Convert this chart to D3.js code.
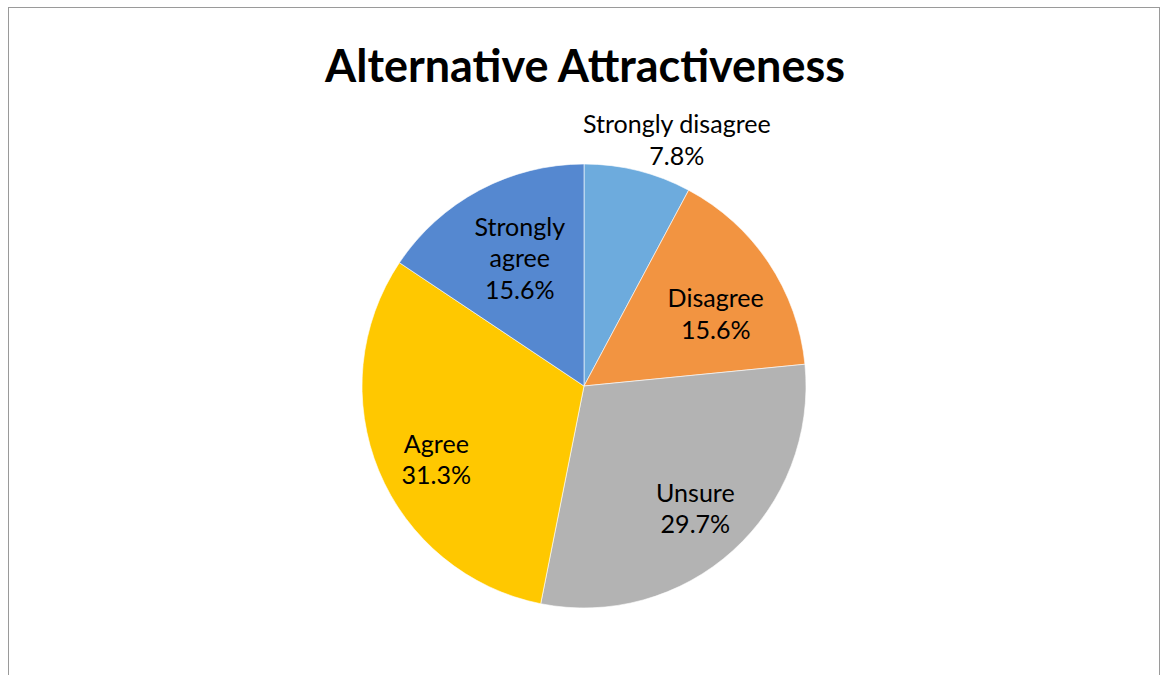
<!DOCTYPE html>
<html>
<head>
<meta charset="utf-8">
<script src="https://cdn.jsdelivr.net/npm/d3@7"></script>
<style>
  html, body { margin: 0; padding: 0; background: #fff; }
  svg { display: block; }
</style>
</head>
<body>
<svg id="chart" width="1162" height="675"></svg>
<script>
// ---- data ----
const title = "Alternative Attractiveness";
const categories = ["Strongly disagree", "Disagree", "Unsure", "Agree", "Strongly agree"];
const values = [5, 10, 19, 20, 10];              // responses (n = 64)
const percentLabels = ["7.8%", "15.6%", "29.7%", "31.3%", "15.6%"];
const labelLines = [["Strongly disagree"], ["Disagree"], ["Unsure"], ["Agree"], ["Strongly", "agree"]];

// ---- style / layout ----
const colors = ["#6DABDD", "#F29441", "#B3B3B3", "#FFC800", "#5588D0"];
const W = 1162, H = 675;
const cx = 584, cy = 386, R = 222;
// label placement in polar terms (radius factor, angle shift in degrees)
const labelPlace = [
  {r: 1.19, da: 6.5},
  {r: 0.68, da: 4.5},
  {r: 0.74, da: -0.5},
  {r: 0.74, da: -3.5},
  {r: 0.65, da: 1.7}
];
const fontFamily = "Lato, 'Open Sans', 'DejaVu Sans', sans-serif";

const svg = d3.select("#chart");

// frame
svg.append("rect")
  .attr("x", 8.5).attr("y", 7.5)
  .attr("width", 1151).attr("height", 720)
  .attr("fill", "#fff")
  .attr("stroke", "#9a9a9a")
  .attr("stroke-width", 1);

// title
const t = svg.append("text")
  .attr("x", 585).attr("y", 82)
  .attr("text-anchor", "middle")
  .attr("font-family", fontFamily)
  .attr("font-weight", "bold")
  .attr("font-size", 40)
  .attr("fill", "#000")
  .text(title);
{
  const w = t.node().getComputedTextLength();
  t.attr("font-size", 40 * 520 / w);
}

// pie
const pie = d3.pie().value(d => d).sort(null);
const arcs = pie(values);
const arc = d3.arc().innerRadius(0).outerRadius(R);

const g = svg.append("g").attr("transform", `translate(${cx},${cy})`);
g.selectAll("path.slice")
  .data(arcs)
  .join("path")
  .attr("class", "slice")
  .attr("d", arc)
  .attr("fill", (d, i) => colors[i])
  .attr("stroke", "#fff")
  .attr("stroke-width", 0.6);

// label font size: fit "Strongly disagree" to ~188px
const probe = svg.append("text")
  .attr("font-family", fontFamily).attr("font-size", 22).text("Strongly disagree");
const labelSize = 22 * 188 / probe.node().getComputedTextLength();
probe.remove();
const lineH = 31.5;

arcs.forEach((d, i) => {
  const p = labelPlace[i];
  const mid = (d.startAngle + d.endAngle) / 2 + p.da * Math.PI / 180;
  const rr = R * p.r;
  const x = Math.sin(mid) * rr;
  const y = -Math.cos(mid) * rr;
  const lines = labelLines[i].concat([percentLabels[i]]);
  const txt = g.append("text")
    .attr("text-anchor", "middle")
    .attr("font-family", fontFamily)
    .attr("font-size", labelSize)
    .attr("fill", "#000");
  const n = lines.length;
  lines.forEach((s, k) => {
    txt.append("tspan")
      .attr("x", x)
      .attr("y", y + (k - (n - 1) / 2) * lineH)
      .attr("dy", "0.42em")
      .text(s);
  });
});
</script>
</body>
</html>
